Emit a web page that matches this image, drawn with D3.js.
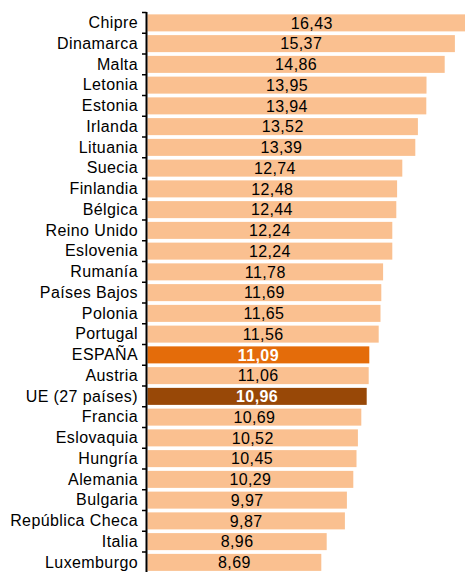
<!DOCTYPE html>
<html>
<head>
<meta charset="utf-8">
<script src="https://cdn.jsdelivr.net/npm/d3@7"></script>
<style>
  body { margin: 0; background: #fff; overflow: hidden; }
  svg { display: block; font-family: Arial, "Liberation Sans", sans-serif; }
</style>
</head>
<body>
<script>
const countries = [
  'Chipre', 'Dinamarca', 'Malta', 'Letonia', 'Estonia', 'Irlanda', 'Lituania',
  'Suecia', 'Finlandia', 'Bélgica', 'Reino Unido', 'Eslovenia', 'Rumanía',
  'Países Bajos', 'Polonia', 'Portugal', 'ESPAÑA', 'Austria', 'UE (27 países)',
  'Francia', 'Eslovaquia', 'Hungría', 'Alemania', 'Bulgaria', 'República Checa',
  'Italia', 'Luxemburgo'
];
const values = [
  16.43, 15.37, 14.86, 13.95, 13.94, 13.52, 13.39, 12.74, 12.48, 12.44, 12.24,
  12.24, 11.78, 11.69, 11.65, 11.56, 11.09, 11.06, 10.96, 10.69, 10.52, 10.45,
  10.29, 9.97, 9.87, 8.96, 8.69
];
const highlight = { 'ESPAÑA': '#e46c0a', 'UE (27 países)': '#984807' };

const width = 465;
const height = 572;
const axisX = 146.5;

const data = countries.map((c, i) => ({ name: c, value: values[i] }));

const svg = d3.select('body').append('svg')
  .attr('width', width)
  .attr('height', height);

const x = d3.scaleLinear().domain([0, 16]).range([axisX + 1, axisX + 1 + 320]);
const y = d3.scaleBand()
  .domain(countries)
  .range([12.5, 12.5 + countries.length * 20.75])
  .paddingInner(0.18)
  .paddingOuter(0.09);

const fmt = (v) => d3.format('.2f')(v).replace('.', ',');

// bars
svg.append('g')
  .selectAll('rect')
  .data(data)
  .enter()
  .append('rect')
  .attr('x', x(0))
  .attr('y', (d) => y(d.name))
  .attr('width', (d) => x(d.value) - x(0))
  .attr('height', y.bandwidth())
  .attr('fill', (d) => highlight[d.name] || '#fac090');

// value labels
svg.append('g')
  .selectAll('text')
  .data(data)
  .enter()
  .append('text')
  .attr('x', (d) => (x(0) + x(d.value)) / 2)
  .attr('y', (d) => y(d.name) + y.bandwidth() / 2)
  .attr('dy', '0.36em')
  .attr('text-anchor', 'middle')
  .attr('font-size', '16px')
  .attr('letter-spacing', '0.4px')
  .attr('font-weight', (d) => (highlight[d.name] ? 'bold' : 'normal'))
  .attr('fill', (d) => (highlight[d.name] ? '#fff' : '#000'))
  .text((d) => fmt(d.value));

// category axis
const axis = svg.append('g')
  .attr('transform', `translate(${axisX},0)`)
  .call(d3.axisLeft(y).tickSize(0).tickPadding(8.5));
axis.select('.domain').remove();
axis.selectAll('text')
  .attr('font-size', '16px')
  .attr('letter-spacing', '0.4px')
  .attr('font-family', 'Arial, "Liberation Sans", sans-serif')
  .attr('fill', '#000');

// axis line and tick marks at band boundaries
const step = y.step();
const start = y.range()[0];
const bounds = d3.range(countries.length + 1).map((i) => start + i * step);
svg.append('line')
  .attr('x1', axisX).attr('x2', axisX)
  .attr('y1', start - 0.5).attr('y2', height)
  .attr('stroke', '#000')
  .attr('stroke-width', 2);
svg.append('g')
  .selectAll('line')
  .data(bounds)
  .enter()
  .append('line')
  .attr('x1', axisX - 4.5)
  .attr('x2', axisX)
  .attr('y1', (d) => d)
  .attr('y2', (d) => d)
  .attr('stroke', '#000')
  .attr('stroke-width', 1.5);
</script>
</body>
</html>
